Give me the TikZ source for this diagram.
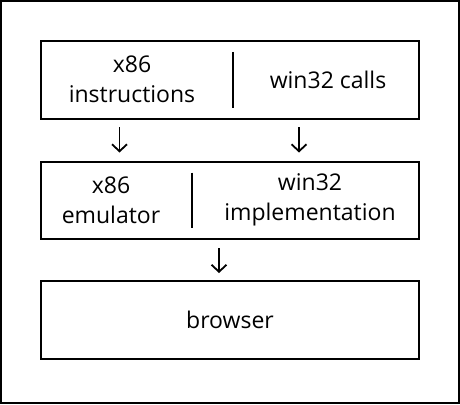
\documentclass[tikz,border=0pt]{standalone}
\usepackage{fontspec}
\setmainfont{Open Sans}
\usetikzlibrary{positioning,arrows.meta}
\tikzset{
	layer/.style={draw,rectangle,line width=2pt,minimum width=378pt,minimum height=77.5pt,inner sep=0pt},
	txt/.style={align=center,inner sep=0pt,font=\fontsize{23}{30}\selectfont},
	divider/.style={line width=2pt},
	flow/.style={line width=1.8pt,-{Straight Barb[length=7pt,width=15pt]}}
}
\begin{document}
\begin{tikzpicture}[x=1pt,y=1pt,node distance=41pt]
		% Rahmen
		\useasboundingbox (0,0) rectangle (460,-404);
		\draw[line width=2pt] (1,-1) rectangle (459,-403);
		% nodes
		\node[layer] (calls) at (230,-79.75) {};							% oberste Ebene
		\node[layer,below=of calls] (runtime) {};							% Emulator + Implementierung
		\node[layer,below=40pt of runtime] (browser) {\fontsize{23}{30}\selectfont browser};	% Browser
		\node[txt] (instr) at ([xshift=92pt]calls.west) {x86\\instructions};
		\node[txt] (wincalls) at ([xshift=288pt]calls.west) {win32 calls};
		\node[txt] (emu) at ([xshift=71pt]runtime.west) {x86\\emulator};
		\node[txt] (winimpl) at ([xshift=270pt]runtime.west) {win32\\implementation};
		
		% Trennstriche
		\draw[divider] ([xshift=193pt,yshift=-12pt]calls.north west) -- ([xshift=193pt,yshift=12pt]calls.south west);
		\draw[divider] ([xshift=152pt,yshift=-12pt]runtime.north west) -- ([xshift=152pt,yshift=12pt]runtime.south west);
		
		% Pfeile
		\draw[flow,shorten <=7.5pt,shorten >=8pt] ([xshift=79.5pt]calls.south west) -- ([xshift=79.5pt]runtime.north west);
		\draw[flow,shorten <=7.5pt,shorten >=8pt] ([xshift=259pt]calls.south west) -- ([xshift=259pt]runtime.north west);
		\draw[flow,shorten <=8pt,shorten >=7pt] ([xshift=179pt]runtime.south west) -- ([xshift=179pt]browser.north west);
\end{tikzpicture}
\end{document}
